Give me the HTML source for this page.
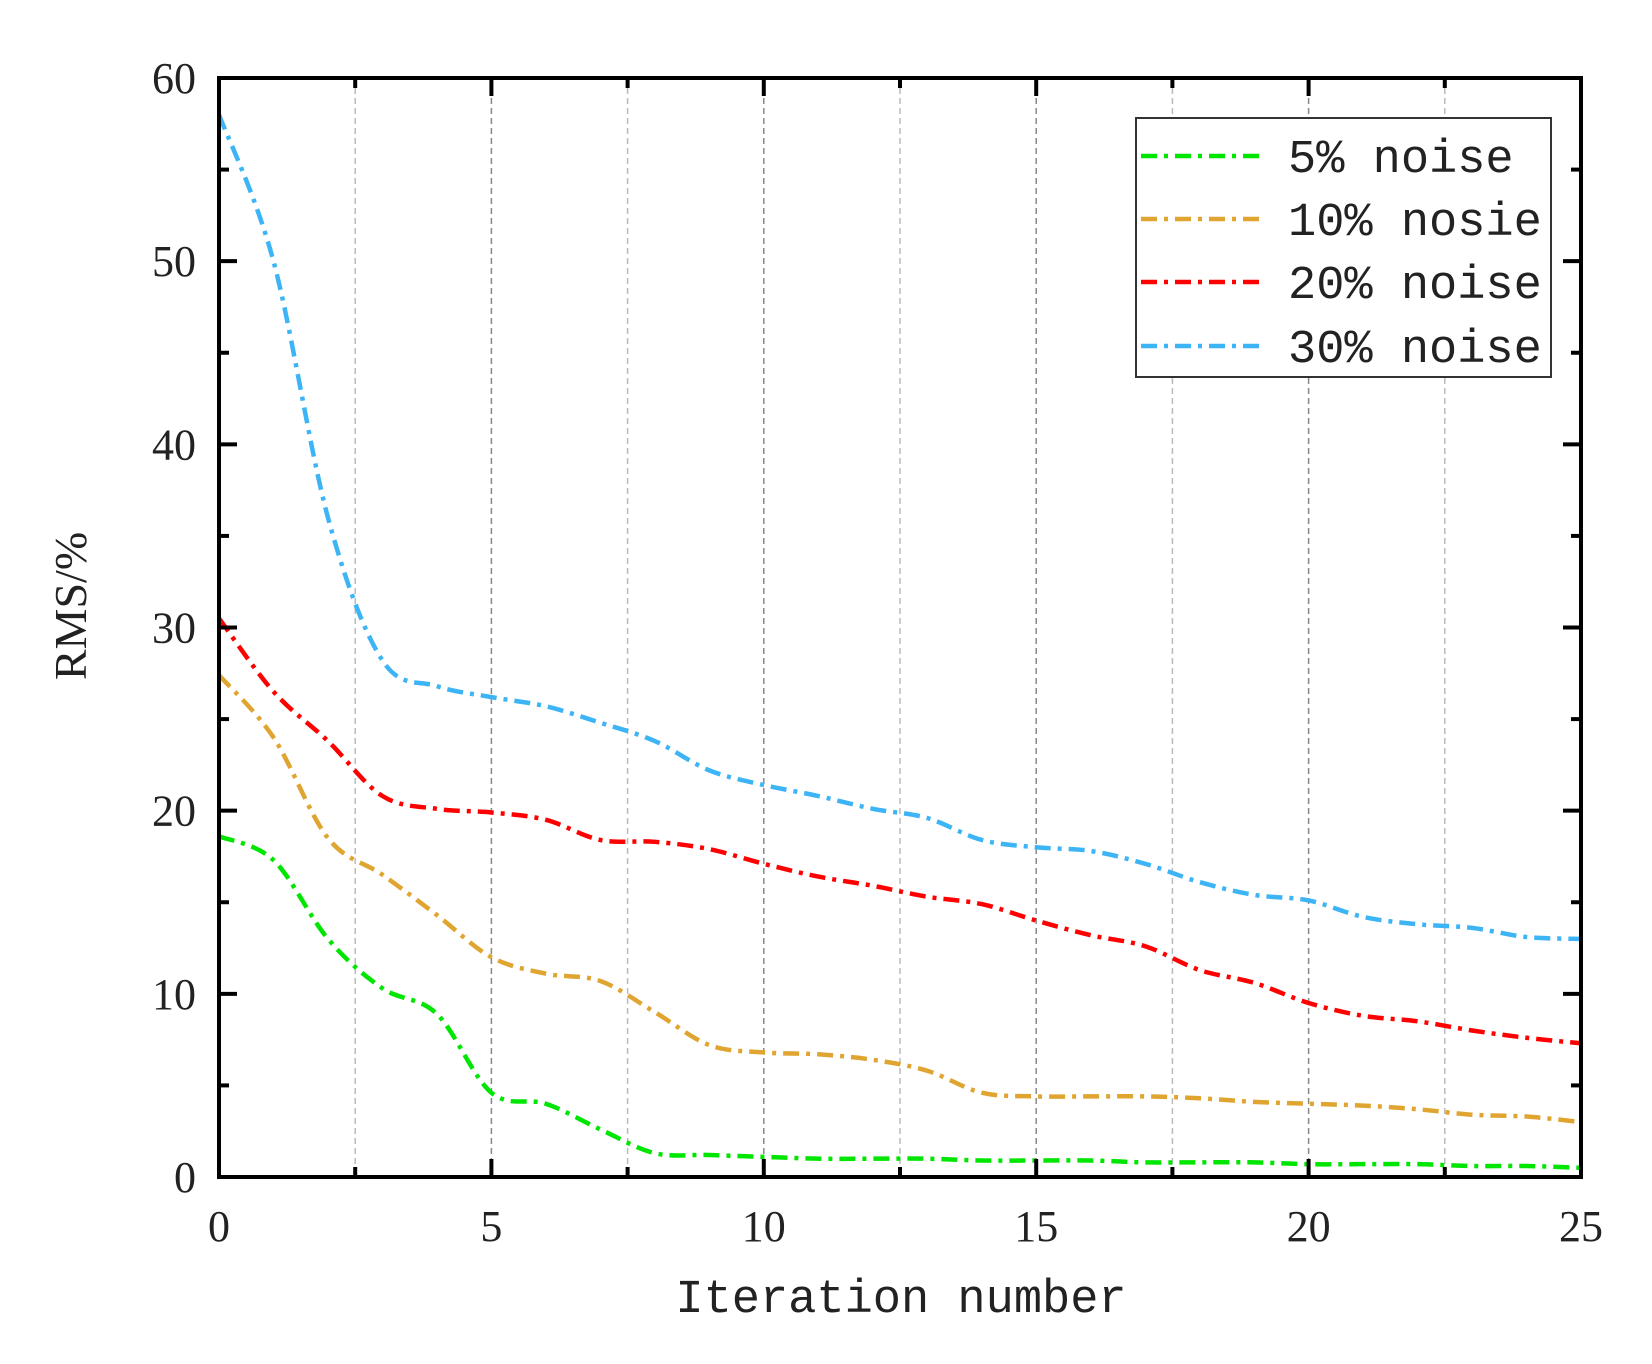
<!DOCTYPE html>
<html><head><meta charset="utf-8"><style>
body{margin:0;background:#fff}
svg{display:block}
</style></head><body>
<svg id="chart" width="1652" height="1364" xmlns="http://www.w3.org/2000/svg">
<g id="grid"></g>
<g id="series"></g>
<rect x="219" y="78" width="1362" height="1099" fill="none" stroke="#000" stroke-width="4"/>
<g id="ticks"></g>
<text x="901" y="1312" font-family="Liberation Mono, monospace" font-size="47" text-anchor="middle" fill="#222">Iteration number</text>
<text transform="translate(86,606) rotate(-90)" font-family="Liberation Serif, serif" font-size="46" text-anchor="middle" fill="#222">RMS/%</text>
<g>
<rect x="1136" y="118" width="415" height="259" fill="#fff" stroke="#333" stroke-width="2"/>
<g id="legend-items"></g>
</g>
</svg>
<script>
const iterations=[0,1,2,3,4,5,6,7,8,9,10,11,12,13,14,15,16,17,18,19,20,21,22,23,24,25];
const noise5=[18.6,17.3,13,10.3,8.9,4.6,4,2.6,1.3,1.2,1.1,1.0,1.0,1.0,0.9,0.9,0.9,0.8,0.8,0.8,0.7,0.7,0.7,0.6,0.6,0.5];
const noise10=[27.4,24,18.5,16.5,14.3,12,11.1,10.7,9,7.2,6.8,6.7,6.4,5.8,4.6,4.4,4.4,4.4,4.3,4.1,4.0,3.9,3.7,3.4,3.3,3.0];
const noise20=[30.5,26.5,23.8,20.8,20.1,19.9,19.5,18.4,18.3,17.9,17.1,16.4,15.9,15.3,14.9,14,13.2,12.6,11.3,10.6,9.5,8.8,8.5,8,7.6,7.3];
const noise30=[58,50,36,28.2,26.8,26.2,25.7,24.8,23.8,22.2,21.4,20.8,20.1,19.6,18.4,18,17.8,17.1,16.1,15.4,15.1,14.2,13.8,13.6,13.1,13];
const seriesNames=["5% noise","10% nosie","20% noise","30% noise"];
const xTicks=[0,5,10,15,20,25];
const yTicks=[0,10,20,30,40,50,60];

const NS="http://www.w3.org/2000/svg";
const X0=219,X1=1581,Y0=1177,Y1=78;
const sx=v=>X0+(v-0)/25*(X1-X0);
const sy=v=>Y0-(v-0)/60*(Y0-Y1);
function mk(tag,attrs,parent){const e=document.createElementNS(NS,tag);for(const k in attrs)e.setAttribute(k,attrs[k]);parent.appendChild(e);return e;}
const grid=document.getElementById('grid'),ticks=document.getElementById('ticks'),ser=document.getElementById('series');
for(let v=2.5;v<25;v+=2.5){
  const l=mk('line',{x1:sx(v),x2:sx(v),y1:Y1,y2:Y0,stroke:(v%5===0)?'#888':'#bbb','stroke-width':1.5,'stroke-dasharray':'6 4'},grid);
  
  
}
for(let v=0;v<=25;v+=2.5){
  const len=(v%5===0)?18:10;
  for(const [ya,yb] of [[Y0,Y0-len],[Y1,Y1+len]]){
    const t=mk('line',{x1:sx(v),x2:sx(v),y1:ya,y2:yb,stroke:'#000','stroke-width':4},ticks);
    
    
  }
}
for(let v=0;v<=60;v+=5){
  const len=(v%10===0)?18:10;
  for(const [xa,xb] of [[X0,X0+len],[X1,X1-len]]){
    const t=mk('line',{x1:xa,x2:xb,y1:sy(v),y2:sy(v),stroke:'#000','stroke-width':4},ticks);
    
    
  }
}
xTicks.forEach(v=>{
  const t=mk('text',{x:sx(v),y:1241,'font-family':'Liberation Serif, serif','font-size':44,'text-anchor':'middle',fill:'#222'},ticks);
  t.textContent=v;
  
  
});
yTicks.forEach(v=>{
  const t=mk('text',{x:196,y:sy(v)+15,'font-family':'Liberation Serif, serif','font-size':44,'text-anchor':'end',fill:'#222'},ticks);
  t.textContent=v;
  
  
});
function smooth(pts){
  let d='M'+pts[0][0]+','+pts[0][1];
  for(let i=0;i<pts.length-1;i++){
    const p0=pts[Math.max(0,i-1)],p1=pts[i],p2=pts[i+1],p3=pts[Math.min(pts.length-1,i+2)];
    const c1=[p1[0]+(p2[0]-p0[0])/6,p1[1]+(p2[1]-p0[1])/6];
    const c2=[p2[0]-(p3[0]-p1[0])/6,p2[1]-(p3[1]-p1[1])/6];
    d+=` C${c1[0]},${c1[1]} ${c2[0]},${c2[1]} ${p2[0]},${p2[1]}`;
  }
  return d;
}
const data=[noise5,noise10,noise20,noise30];
const colors=['#00e600','#e0a530','#ff0000','#3cb4f5'];
const dash='16 7 4 7';
data.forEach((arr,i)=>{
  const pts=iterations.map((x,j)=>[sx(x),sy(arr[j])]);
  const p=mk('path',{d:smooth(pts),fill:'none',stroke:colors[i],'stroke-width':4.5,'stroke-dasharray':dash},ser);
  
  
});
const li=document.getElementById('legend-items');
const ly=[156,219,282,346];
seriesNames.forEach((n,i)=>{
  const l=mk('line',{x1:1141,x2:1259,y1:ly[i],y2:ly[i],stroke:colors[i],'stroke-width':4.5,'stroke-dasharray':dash},li);
  
  
  const t=mk('text',{x:1288,y:ly[i]+16,'font-family':'Liberation Mono, monospace','font-size':47,fill:'#222'},li);
  t.textContent=n;
  
  
});
</script>
</body></html>
